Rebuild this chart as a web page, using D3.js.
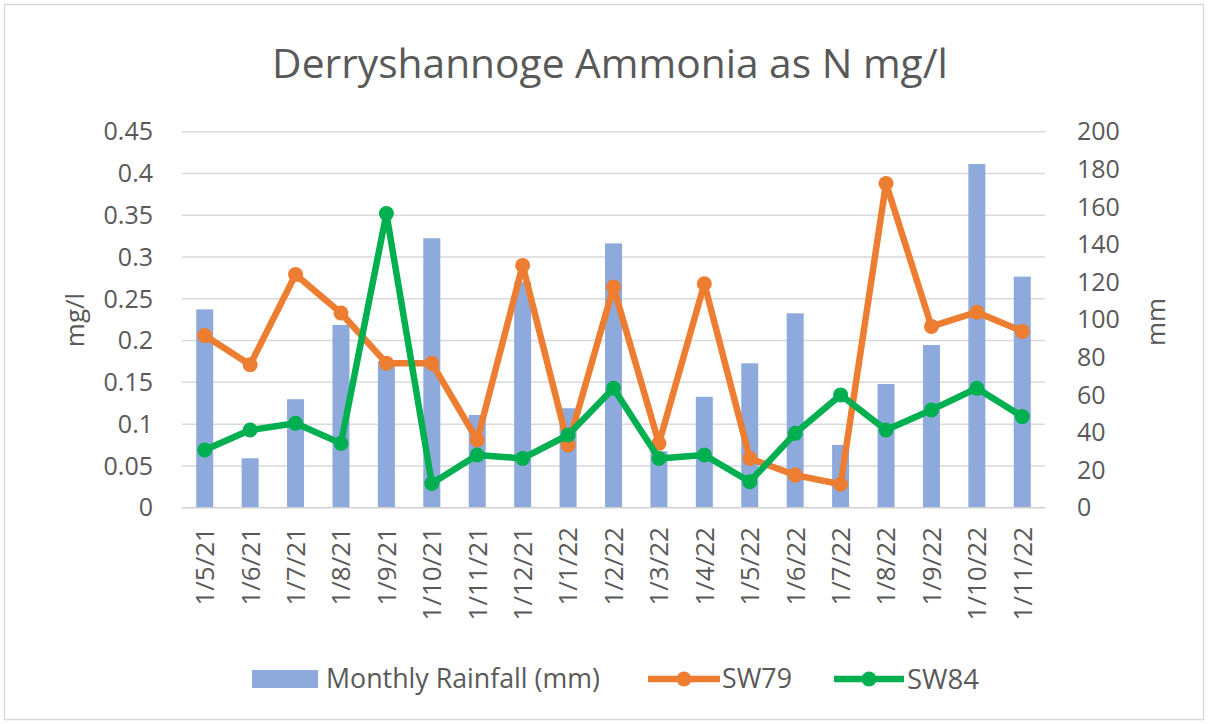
<!DOCTYPE html>
<meta charset="utf-8">
<title>Derryshannoge Ammonia</title>
<body>
<script src="https://cdn.jsdelivr.net/npm/d3@7"></script>
<style>
html, body {
    margin: 0;
    background: #fff;
}
svg text {
    font-family: "Open Sans", sans-serif;
    fill: #595959;
}
</style>
<script>
var months = ["1/5/21", "1/6/21", "1/7/21", "1/8/21", "1/9/21", "1/10/21", "1/11/21", "1/12/21",
              "1/1/22", "1/2/22", "1/3/22", "1/4/22", "1/5/22", "1/6/22", "1/7/22", "1/8/22",
              "1/9/22", "1/10/22", "1/11/22"];

var rainfall = [105.5, 26.3, 57.7, 97.2, 78, 143.3, 49.3, 120, 52.9, 140.6,
                30, 59, 76.8, 103.4, 33.4, 65.8, 86.5, 182.8, 122.9];

var sw79 = [0.206, 0.171, 0.279, 0.233, 0.173, 0.173, 0.081, 0.29, 0.075, 0.264,
            0.077, 0.268, 0.059, 0.039, 0.028, 0.388, 0.217, 0.234, 0.211];

var sw84 = [0.069, 0.093, 0.101, 0.077, 0.352, 0.029, 0.063, 0.059, 0.087, 0.143,
            0.059, 0.063, 0.031, 0.089, 0.135, 0.093, 0.117, 0.143, 0.109];

var leftTicks = [0, 0.05, 0.1, 0.15, 0.2, 0.25, 0.3, 0.35, 0.4, 0.45],
    rightTicks = [0, 20, 40, 60, 80, 100, 120, 140, 160, 180, 200];

var width = 1208,
    height = 724,
    plot = {left: 182, right: 1045, top: 131.7, bottom: 507.7};

var svg = d3.select("body").append("svg")
    .attr("width", width)
    .attr("height", height);

// outer frame
svg.append("rect")
    .attr("x", 4.5).attr("y", 4.5)
    .attr("width", width - 9).attr("height", height - 9)
    .attr("fill", "#fff")
    .attr("stroke", "#d9d9d9")
    .attr("stroke-width", 1.5);

var x = d3.scaleBand()
    .domain(months)
    .range([plot.left, plot.right]);

var yL = d3.scaleLinear().domain([0, 0.45]).range([plot.bottom, plot.top]);
var yR = d3.scaleLinear().domain([0, 200]).range([plot.bottom, plot.top]);

function fit(sel, target) {
    var fs = parseFloat(sel.style("font-size")),
        w = sel.node().getComputedTextLength();
    sel.style("font-size", (fs * target / w) + "px");
}

// title
svg.append("text")
    .attr("x", 610).attr("y", 78)
    .attr("text-anchor", "middle")
    .style("font-size", "36px")
    .text("Derryshannoge Ammonia as N mg/l")
    .call(fit, 676);

// gridlines
svg.append("g").selectAll("line")
    .data(leftTicks.slice(1))
    .join("line")
    .attr("x1", plot.left).attr("x2", plot.right)
    .attr("y1", function(d) { return yL(d); })
    .attr("y2", function(d) { return yL(d); })
    .attr("stroke", "#d9d9d9")
    .attr("stroke-width", 1.5);

// left tick labels
svg.append("g").selectAll("text")
    .data(leftTicks)
    .join("text")
    .attr("x", 153)
    .attr("y", function(d) { return yL(d); })
    .attr("dy", "0.35em")
    .attr("text-anchor", "end")
    .style("font-size", "25px")
    .text(function(d) { return String(+d.toFixed(2)); });

// right tick labels
svg.append("g").selectAll("text")
    .data(rightTicks)
    .join("text")
    .attr("x", 1077)
    .attr("y", function(d) { return yR(d); })
    .attr("dy", "0.35em")
    .attr("text-anchor", "start")
    .style("font-size", "25px")
    .text(function(d) { return d; });

// axis titles
svg.append("text")
    .attr("transform", "translate(84,320) rotate(-90)")
    .attr("text-anchor", "middle")
    .style("font-size", "26px")
    .text("mg/l");

svg.append("text")
    .attr("transform", "translate(1165,322) rotate(-90)")
    .attr("text-anchor", "middle")
    .style("font-size", "26px")
    .text("mm");

// bars
var barW = 17;
svg.append("g").selectAll("rect")
    .data(rainfall)
    .join("rect")
    .attr("x", function(d, i) { return x(months[i]) + x.bandwidth() / 2 - barW / 2; })
    .attr("y", function(d) { return yR(d); })
    .attr("width", barW)
    .attr("height", function(d) { return plot.bottom - yR(d); })
    .attr("fill", "#8eaadc");

// baseline
svg.append("line")
    .attr("x1", plot.left).attr("x2", plot.right)
    .attr("y1", plot.bottom).attr("y2", plot.bottom)
    .attr("stroke", "#d0d0d0")
    .attr("stroke-width", 1.5);

// x labels
svg.append("g").selectAll("text")
    .data(months)
    .join("text")
    .attr("transform", function(d) {
        return "translate(" + [x(d) + x.bandwidth() / 2, 527] + ") rotate(-90)";
    })
    .attr("text-anchor", "end")
    .attr("dy", "0.36em")
    .style("font-size", "26px")
    .text(function(d) { return d; });

// lines
var series = [
    {name: "SW79", values: sw79, color: "#ed7d31"},
    {name: "SW84", values: sw84, color: "#00b050"}
];

var line = d3.line()
    .x(function(d, i) { return x(months[i]) + x.bandwidth() / 2; })
    .y(function(d) { return yL(d); });

series.forEach(function(s) {
    var g = svg.append("g");
    g.append("path")
        .attr("d", line(s.values))
        .attr("fill", "none")
        .attr("stroke", s.color)
        .attr("stroke-width", 6.5)
        .attr("stroke-linejoin", "round");
    g.selectAll("circle")
        .data(s.values)
        .join("circle")
        .attr("cx", function(d, i) { return x(months[i]) + x.bandwidth() / 2; })
        .attr("cy", function(d) { return yL(d); })
        .attr("r", 7.5)
        .attr("fill", s.color);
});

// legend
var ly = 679;
svg.append("rect")
    .attr("x", 252).attr("y", ly - 9)
    .attr("width", 66).attr("height", 18)
    .attr("fill", "#8eaadc");
svg.append("text")
    .attr("x", 326).attr("y", ly).attr("dy", "0.35em")
    .style("font-size", "24px")
    .text("Monthly Rainfall (mm)")
    .call(fit, 274);

var legendLines = [
    {x1: 648, x2: 720, tx: 722, w: 70},
    {x1: 834, x2: 904, tx: 907, w: 72}
];

series.forEach(function(s, i) {
    var l = legendLines[i];
    svg.append("line")
        .attr("x1", l.x1).attr("x2", l.x2)
        .attr("y1", ly).attr("y2", ly)
        .attr("stroke", s.color)
        .attr("stroke-width", 6.5);
    svg.append("circle")
        .attr("cx", (l.x1 + l.x2) / 2).attr("cy", ly)
        .attr("r", 7.5)
        .attr("fill", s.color);
    svg.append("text")
        .attr("x", l.tx).attr("y", ly).attr("dy", "0.35em")
        .style("font-size", "24px")
        .text(s.name)
        .call(fit, l.w);
});
</script>
